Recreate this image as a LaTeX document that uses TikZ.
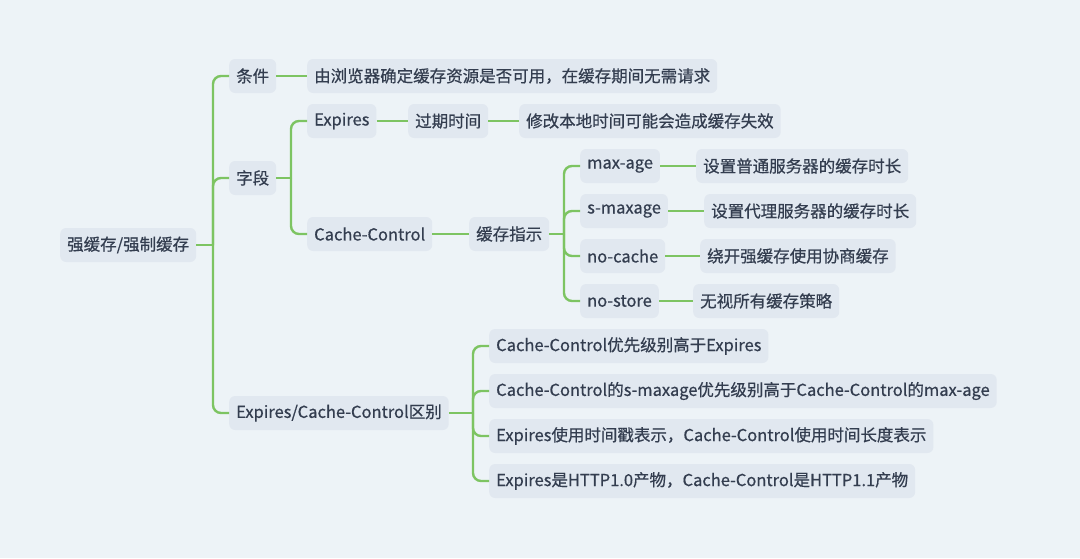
\documentclass[tikz,border=0pt]{standalone}
\usepackage{fontspec}
\setmainfont{Noto Sans CJK SC}[BoldFont=Noto Sans CJK SC,BoldFeatures={FakeBold=0.6}]
\definecolor{bg}{HTML}{EDF3F7}
\definecolor{boxfill}{HTML}{E1E8F0}
\definecolor{ink}{HTML}{333D4F}
\definecolor{linkgreen}{HTML}{7DC462}

\begin{document}
\begin{tikzpicture}[x=1pt,y=-1pt,
    box/.style={fill=boxfill,rounded corners=6pt,inner xsep=7pt,inner ysep=0pt,minimum height=34pt,text=ink,font=\fontsize{16.5}{19}\selectfont\bfseries,anchor=west},
    link/.style={draw=linkgreen,line width=2.4pt,rounded corners=8pt}]
   		\fill[bg] (0,0) rectangle (1080,558);
        \useasboundingbox (0,0) rectangle (1080,558);

        \node at (60,245) [box] (root) {强缓存/强制缓存};
        \node at (229,76) [box] (cond) {条件};
        \node at (307,76) [box] (condn) {由浏览器确定缓存资源是否可用，在缓存期间无需请求};
        \node at (229,178) [box] (field) {字段};
        \node at (307,121) [box] (exp) {Expires};
        \node at (408,121) [box] (expt) {过期时间};
        \node at (519,121) [box] (expn) {修改本地时间可能会造成缓存失效};
        \node at (307,234) [box] (cc) {Cache-Control};
        \node at (469,234) [box] (hint) {缓存指示};
        \node at (580,166) [box] (maxa) {max-age};
        \node at (696,166) [box] (maxn) {设置普通服务器的缓存时长};
        \node at (580,211) [box] (smax) {s-maxage};
        \node at (704,211) [box] (smaxn) {设置代理服务器的缓存时长};
        \node at (580,256) [box] (nocache) {no-cache};
        \node at (700,256) [box] (nocachen) {绕开强缓存使用协商缓存};
        \node at (580,301) [box] (nostore) {no-store};
        \node at (693,301) [box] (nostoren) {无视所有缓存策略};
        \node at (229,413) [box] (diff) {Expires/Cache-Control区别};
        \node at (489,346) [box] (da) {Cache-Control优先级别高于Expires};
        \node at (489,391) [box] (db) {Cache-Control的s-maxage优先级别高于Cache-Control的max-age};
        \node at (489,436) [box] (dc) {Expires使用时间戳表示，Cache-Control使用时间长度表示};
        \node at (489,481) [box] (dd) {Expires是HTTP1.0产物，Cache-Control是HTTP1.1产物};

        \coordinate (j0) at (213,245);
        \coordinate (j1) at (291,178);
        \coordinate (j2) at (564,234);
        \coordinate (j3) at (473,413);

        \draw[link] (root) -- (j0);
        \draw[link] (j0) |- (cond.west);
        \draw[link] (j0) |- (field.west);
        \draw[link] (j0) |- (diff.west);
        \draw[link] (cond) -- (condn);
        \draw[link] (field) -- (j1);
        \draw[link] (j1) |- (exp.west);
        \draw[link] (j1) |- (cc.west);
        \draw[link] (exp) -- (expt);
        \draw[link] (expt) -- (expn);
        \draw[link] (cc) -- (hint);
        \draw[link] (hint) -- (j2);
        \draw[link] (j2) |- (maxa.west);
        \draw[link] (j2) |- (smax.west);
        \draw[link] (j2) |- (nocache.west);
        \draw[link] (j2) |- (nostore.west);
        \draw[link] (maxa) -- (maxn);
        \draw[link] (smax) -- (smaxn);
        \draw[link] (nocache) -- (nocachen);
        \draw[link] (nostore) -- (nostoren);
        \draw[link] (diff) -- (j3);
        \draw[link] (j3) |- (da.west);
        \draw[link] (j3) |- (db.west);
        \draw[link] (j3) |- (dc.west);
        \draw[link] (j3) |- (dd.west);
    \end{tikzpicture}
\end{document}
